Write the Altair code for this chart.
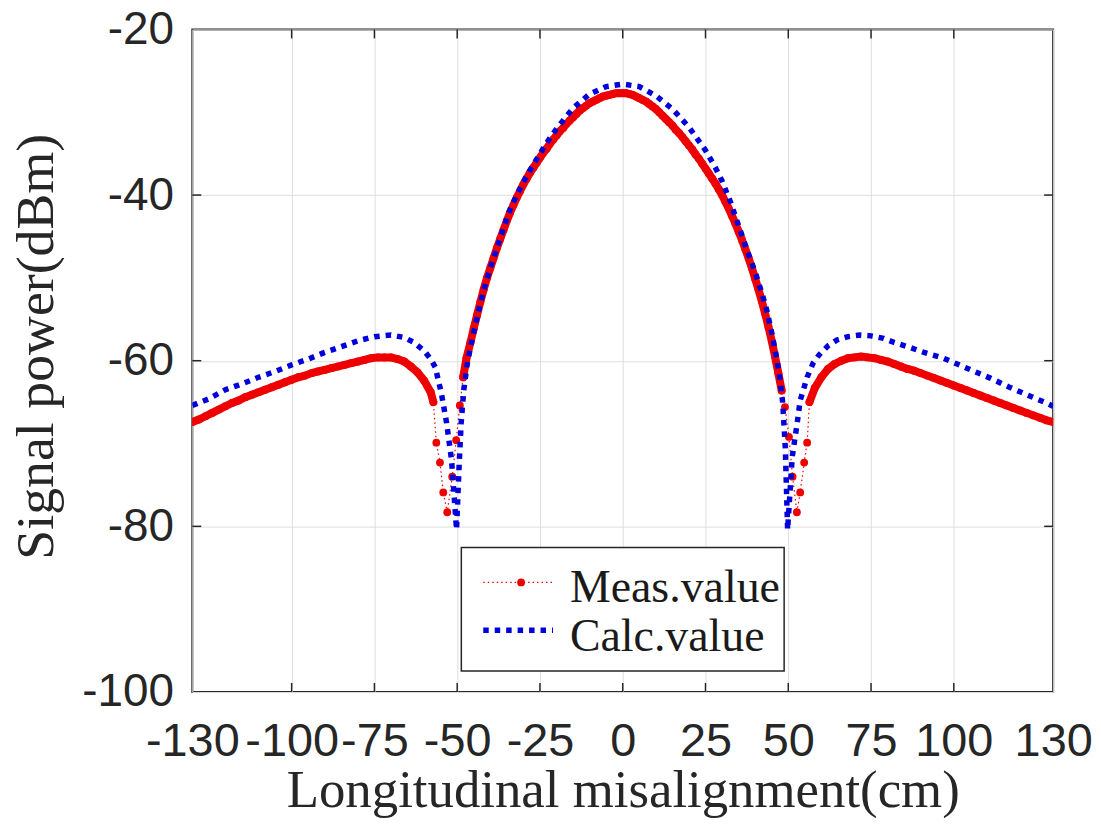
import altair as alt
import pandas as pd

# ---------------- data ----------------
meas_x = [-130, -128, -126, -124, -122, -120, -118, -116, -114, -112, -110, -108, -106, -104, -102,
          -100, -98, -96, -94, -92, -90, -88, -86, -84, -82, -80, -78, -76, -74, -72, -70, -68,
          -66, -64, -62, -60, -58,
          -57.2, -56.3, -55.2, -54.2, -53.0, -51.5, -50.3, -49.2, -48.2, -47.2,
          -46, -45, -44, -43, -42, -41, -40, -39, -38, -37, -36, -35, -34, -33, -32, -31, -30,
          -29, -28, -27, -26, -25, -24, -23, -22, -21, -20, -19, -18, -17, -16, -15, -14, -13,
          -12, -11, -10, -9, -8, -7, -6, -5, -4, -3, -2, -1, 0, 1, 2, 3, 4, 5, 6, 7, 8, 9, 10,
          11, 12, 13, 14, 15, 16, 17, 18, 19, 20, 21, 22, 23, 24, 25, 26, 27, 28, 29, 30, 31, 32,
          33, 34, 35, 36, 37, 38, 39, 40, 41, 42, 43, 44, 45, 46,
          47.0, 48.0, 49.0, 50.2, 51.3, 52.6, 53.6, 54.8, 55.7, 56.4,
          58, 60, 62, 64, 66, 68, 70, 72, 74, 76, 78, 80, 82, 84, 86, 88, 90, 92, 94, 96, 98,
          100, 102, 104, 106, 108, 110, 112, 114, 116, 118, 120, 122, 124, 126, 128, 130]
meas_y = [-67.4, -67.1, -66.7, -66.3, -65.9, -65.5, -65.1, -64.8, -64.4, -64.1, -63.8, -63.5, -63.2, -62.9, -62.6,
          -62.3, -62.0, -61.8, -61.5, -61.3, -61.1, -60.9, -60.7, -60.5, -60.3, -60.1, -59.9, -59.7, -59.6, -59.6, -59.6, -59.8,
          -60.1, -60.7, -61.4, -62.4, -63.8,
          -65.0, -69.9, -72.3, -75.9, -78.3, -74.0, -69.6, -65.4, -62.0, -59.7,
          -57.8, -56.1, -54.5, -52.9, -51.4, -50.0, -48.8, -47.6, -46.4, -45.3, -44.2, -43.1, -42.1, -41.2, -40.3, -39.5, -38.7,
          -38.0, -37.3, -36.7, -36.1, -35.5, -34.9, -34.4, -33.8, -33.3, -32.8, -32.3, -31.9, -31.4, -31.0, -30.6, -30.2, -29.8,
          -29.5, -29.2, -28.9, -28.7, -28.5, -28.3, -28.1, -28.0, -27.9, -27.8, -27.7, -27.7, -27.7, -27.7, -27.8, -27.9, -28.1, -28.3, -28.5, -28.7, -29.0, -29.3, -29.6,
          -30.0, -30.4, -30.8, -31.2, -31.6, -32.1, -32.5, -33.0, -33.5, -34.0, -34.5, -35.1, -35.6, -36.2, -36.8, -37.4, -38.0, -38.6, -39.3, -40.0, -40.8, -41.6,
          -42.5, -43.4, -44.4, -45.4, -46.5, -47.6, -48.8, -50.1, -51.4, -52.8, -54.3, -55.9, -57.6, -59.5,
          -61.5, -63.6, -65.6, -69.2, -74.0, -78.3, -75.9, -72.3, -69.9, -65.0,
          -63.3, -62.0, -61.0, -60.4, -60.0, -59.7, -59.6, -59.5, -59.6, -59.7, -59.9, -60.1, -60.4, -60.7, -61.0, -61.2, -61.5, -61.8, -62.1, -62.4, -62.7,
          -63.0, -63.3, -63.6, -63.9, -64.2, -64.5, -64.8, -65.1, -65.4, -65.7, -66.0, -66.3, -66.6, -66.9, -67.2, -67.4]

calc_x = [-130, -125, -120, -115, -110, -105, -100, -95, -90, -85, -80, -75, -70, -66, -63, -60, -58,
          -56.6, -54.8, -53.2, -51.7, -50.2, -49.4, -48.8, -48, -47, -46, -45, -44, -43, -42, -41, -40,
          -38, -36, -34, -32, -30, -28, -25, -22, -20, -15, -10, -5, 0, 5, 10, 15, 20, 25, 28, 30,
          32.5, 35, 37.5, 40, 42, 43.5, 45, 46.3, 47.3, 48.3, 49.1, 49.8, 51.2, 52.7, 53.6, 55.7, 57.5,
          59.3, 62, 64.7, 68, 71.6, 75, 78.8, 82, 86.7, 91, 96.9, 101, 106.8, 111, 116.8, 122, 127.9, 130]
calc_y = [-65.4, -64.6, -63.5, -62.8, -62.0, -61.3, -60.5, -59.8, -59.0, -58.3, -57.6, -57.1, -56.9, -57.2, -57.8, -58.8, -59.8,
          -60.8, -63.9, -67.5, -72.0, -80.4, -72.5, -67.5, -63.5, -60.5, -58.4, -56.6, -54.8, -53.1, -51.5, -50.1, -48.8,
          -46.4, -44.0, -41.7, -40.0, -38.4, -37.0, -35.0, -33.1, -32.0, -29.5, -27.8, -26.9, -26.6, -26.9, -28.0, -29.6, -31.8, -34.6, -36.7, -38.3,
          -40.8, -43.7, -46.6, -49.3, -51.8, -53.9, -56.6, -59.3, -61.6, -65.0, -70.5, -80.4, -71.6, -67.5, -64.8, -62.0, -60.3,
          -59.3, -58.2, -57.5, -57.1, -56.9, -57.0, -57.3, -57.8, -58.4, -59.0, -59.7, -60.4, -61.4, -62.1, -63.2, -64.1, -65.1, -65.5]

x_ticks = [-130, -100, -75, -50, -25, 0, 25, 50, 75, 100, 130]
y_ticks = [-100, -80, -60, -40, -20]
inner_x_ticks = [-100, -75, -50, -25, 0, 25, 50, 75, 100]
inner_y_ticks = [-80, -60, -40]
series_names = ["Meas.value", "Calc.value"]
x_title = "Longitudinal misalignment(cm)"
y_title = "Signal power(dBm)"

# ---------------- styling ----------------
W, H = 864, 665
RED = "#ee0000"
BLUE = "#0000dd"
AX = "#262626"
SANS = "Liberation Sans"
SERIF = "Liberation Serif"
HYPHEN_LABEL = "datum.value < 0 ? '-' + abs(datum.value) : '' + datum.value"

meas = pd.DataFrame({"x": meas_x, "y": meas_y})
calc = pd.DataFrame({"x": calc_x, "y": calc_y})
xt = pd.DataFrame({"x": inner_x_ticks})
yt = pd.DataFrame({"y": inner_y_ticks})
one = pd.DataFrame({"k": [0]})

xscale = alt.Scale(domain=[-130, 130], nice=False, zero=False)
yscale = alt.Scale(domain=[-100, -20], nice=False, zero=False)

x_axis = alt.Axis(values=x_ticks, domain=False, ticks=False, tickSize=0, grid=True,
                  gridColor="#dedede", gridWidth=1, labelFont=SANS, labelFontSize=47,
                  labelColor=AX, labelPadding=27, labelOverlap=False, labelFlush=False,
                  labelBound=False, labelExpr=HYPHEN_LABEL,
                  title=x_title, titleFont=SERIF, titleFontSize=53,
                  titleFontWeight="normal", titleColor=AX, titleX=W / 2, titleY=115,
                  titleBaseline="alphabetic", titleAlign="center")
y_axis = alt.Axis(values=y_ticks, domain=False, ticks=False, tickSize=0, grid=True,
                  gridColor="#dedede", gridWidth=1, labelFont=SANS, labelFontSize=46,
                  labelColor=AX, labelPadding=19, labelOverlap=False, labelFlush=False,
                  labelBound=False, labelExpr=HYPHEN_LABEL,
                  title=y_title, titleFont=SERIF, titleFontSize=54,
                  titleFontWeight="normal", titleColor=AX, titleX=-140, titleY=318,
                  titleAngle=270, titleBaseline="alphabetic", titleAlign="center")

X = alt.X("x:Q", scale=xscale, axis=x_axis)
Y = alt.Y("y:Q", scale=yscale, axis=y_axis)

base_meas = alt.Chart(meas)

meas_dotted = base_meas.mark_line(color=RED, strokeWidth=1.2, strokeDash=[1.5, 3], clip=True).encode(
    x=X, y=Y)

meas_band = base_meas.transform_filter(
    "abs(datum.x) <= 48.3 || abs(datum.x) >= 56.35"
).transform_calculate(
    seg="datum.x < -50 ? 'L' : (datum.x > 50 ? 'R' : 'C')"
).mark_line(color=RED, strokeWidth=8, strokeCap="round", strokeJoin="round", clip=True).encode(
    x=X, y=Y, detail="seg:N")

meas_pts = base_meas.mark_circle(color=RED, size=62, opacity=1, clip=True).encode(x=X, y=Y)

calc_line = alt.Chart(calc).mark_line(color=BLUE, strokeWidth=5.5, strokeDash=[5.5, 6],
                                      strokeCap="butt", clip=True).encode(x=X, y=Y)

# inward ticks (MATLAB box style)
xt_bot = alt.Chart(xt).mark_rule(color=AX, strokeWidth=1.5).encode(
    x=X, y=alt.value(H), y2=alt.value(H - 9))
xt_top = alt.Chart(xt).mark_rule(color=AX, strokeWidth=1.5).encode(
    x=X, y=alt.value(0), y2=alt.value(9))
yt_left = alt.Chart(yt).mark_rule(color=AX, strokeWidth=1.5).encode(
    y=Y, x=alt.value(0), x2=alt.value(9))
yt_right = alt.Chart(yt).mark_rule(color=AX, strokeWidth=1.5).encode(
    y=Y, x=alt.value(W - 9), x2=alt.value(W))

# legend box
leg_box = alt.Chart(one).mark_rect(fill="white", stroke=AX, strokeWidth=1.5).encode(
    x=alt.value(270), x2=alt.value(594), y=alt.value(520), y2=alt.value(644))
leg_red_line = alt.Chart(one).mark_rule(color=RED, strokeWidth=1.2, strokeDash=[1.5, 3]).encode(
    x=alt.value(292), x2=alt.value(362), y=alt.value(555))
leg_red_dot = alt.Chart(one).mark_circle(color=RED, size=62, opacity=1).encode(
    x=alt.value(330), y=alt.value(555))
leg_blue_line = alt.Chart(one).mark_rule(color=BLUE, strokeWidth=5.5, strokeDash=[5.5, 6],
                                         strokeCap="butt").encode(
    x=alt.value(292), x2=alt.value(362), y=alt.value(603))
leg_t1 = alt.Chart(one).mark_text(align="left", baseline="alphabetic", font=SERIF, fontSize=46,
                                  color="#1a1a1a").encode(
    x=alt.value(379), y=alt.value(575), text=alt.value(series_names[0]))
leg_t2 = alt.Chart(one).mark_text(align="left", baseline="alphabetic", font=SERIF, fontSize=46,
                                  color="#1a1a1a").encode(
    x=alt.value(379), y=alt.value(624), text=alt.value(series_names[1]))

chart = alt.layer(
    meas_dotted, meas_band, meas_pts, calc_line,
    xt_bot, xt_top, yt_left, yt_right,
    leg_box, leg_red_line, leg_red_dot, leg_blue_line, leg_t1, leg_t2,
).properties(
    width=W, height=H,
    autosize=alt.AutoSizeParams(type="none"),
    padding={"left": 185, "top": 20, "right": 40, "bottom": 133},
    background="white",
).configure_view(stroke=AX, strokeWidth=2)

chart.save("out.html", embed_options={"renderer": "svg", "actions": False})
